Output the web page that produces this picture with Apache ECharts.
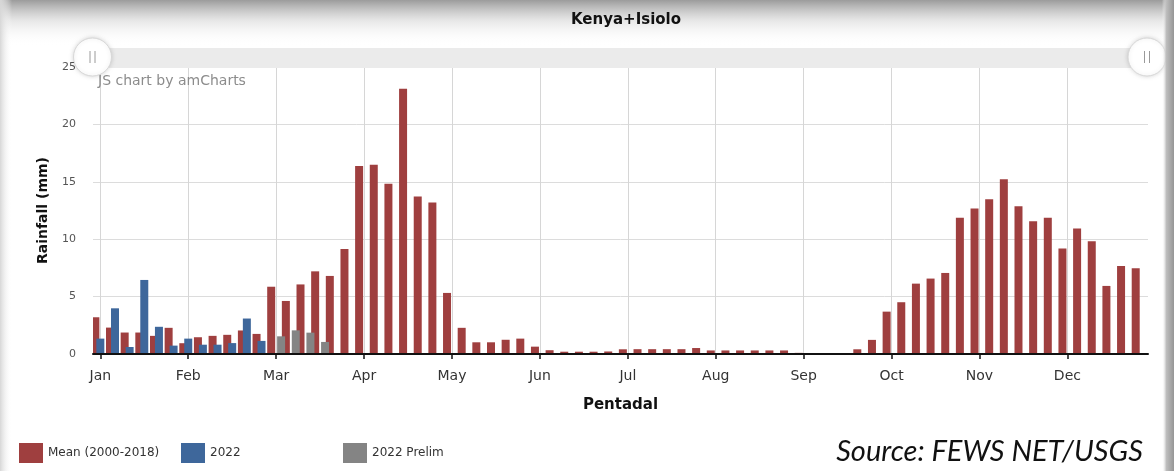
<!DOCTYPE html>
<html>
<head>
<meta charset="utf-8">
<script src="https://cdn.jsdelivr.net/npm/echarts@6/dist/echarts.min.js"></script>
<style>
  html, body { margin: 0; padding: 0; background: #ffffff; }
  #chart { width: 1174px; height: 471px; }
</style>
</head>
<body>
<div id="chart"></div>
<script>
// ---------------- data ----------------
const months = ['Jan', 'Feb', 'Mar', 'Apr', 'May', 'Jun', 'Jul', 'Aug', 'Sep', 'Oct', 'Nov', 'Dec'];
const pentadsPerMonth = 6;
const pentads = [];
months.forEach(function (m) {
  for (let k = 1; k <= pentadsPerMonth; k++) pentads.push(m + ' P' + k);
});

// Mean (2000-2018) rainfall per pentad, mm
const meanRain = [
  3.20, 2.30, 1.87, 1.87, 1.58, 2.28,     // Jan
  0.94, 1.46, 1.58, 1.67, 2.05, 1.75,     // Feb
  5.86, 4.62, 6.06, 7.20, 6.80, 9.15,     // Mar
  16.37, 16.48, 14.83, 23.11, 13.72, 13.20, // Apr
  5.32, 2.28, 1.02, 1.02, 1.24, 1.34,     // May
  0.64, 0.33, 0.20, 0.20, 0.20, 0.22,     // Jun
  0.41, 0.42, 0.42, 0.42, 0.42, 0.52,     // Jul
  0.31, 0.31, 0.31, 0.31, 0.31, 0.31,     // Aug
  0.10, 0.04, 0.05, 0.05, 0.41, 1.23,     // Sep
  3.69, 4.51, 6.13, 6.57, 7.06, 11.86,    // Oct
  12.67, 13.49, 15.23, 12.88, 11.57, 11.86, // Nov
  9.19, 10.93, 9.83, 5.93, 7.67, 7.47     // Dec
];
// 2022 observed (Jan P1 .. Feb P6)
const rain2022 = [1.34, 3.98, 0.61, 6.45, 2.37, 0.73, 1.34, 0.81, 0.81, 0.95, 3.09, 1.14];
// 2022 preliminary (Mar P1 .. Mar P4)
const rain2022Prelim = [1.54, 2.06, 1.86, 1.05];
const prelimStartIndex = 12;

const seriesNames = ['Mean (2000-2018)', '2022', '2022 Prelim'];
const yTickValues = [0, 5, 10, 15, 20, 25];

// ---------------- build ----------------
const data2022 = pentads.map(function (p, i) { return i < rain2022.length ? rain2022[i] : null; });
const dataPrelim = pentads.map(function (p, i) {
  const j = i - prelimStartIndex;
  return (j >= 0 && j < rain2022Prelim.length) ? rain2022Prelim[j] : null;
});
// month ticks sit at the centre of each month's first pentad
const monthTickPos = months.map(function (m, i) { return i * pentadsPerMonth + 0.5; });

const FONT = '"DejaVu Sans", Verdana, sans-serif';
const colors = ['#9f3f3f', '#3e679b', '#848484'];

const chart = echarts.init(document.getElementById('chart'), null, { renderer: 'canvas' });

function barSeries(idx, data) {
  return {
    name: seriesNames[idx],
    type: 'bar',
    xAxisIndex: 0,
    yAxisIndex: 0,
    data: data,
    barWidth: 8,
    barGap: '-38%',
    itemStyle: { color: colors[idx] },
    emphasis: { disabled: true },
    z: 2
  };
}

const option = {
  animation: false,
  backgroundColor: '#ffffff',
  title: [
    {
      text: 'Kenya+Isiolo',
      left: 621,
      textAlign: 'center',
      top: 8,
      textStyle: { fontFamily: FONT, fontSize: 15, fontWeight: 'bold', color: '#111' }
    },
    {
      text: 'Source: FEWS NET/USGS',
      right: 26,
      bottom: 0,
      textStyle: { fontFamily: 'Lato, "Open Sans", sans-serif', fontStyle: 'italic', fontWeight: 'normal', fontSize: 29, color: '#111' }
    }
  ],
  legend: seriesNames.map(function (n, i) {
    return {
      data: [n],
      left: 14 + i * 162,
      top: 438,
      icon: 'rect',
      itemWidth: 24,
      itemHeight: 20,
      itemGap: 5,
      selectedMode: false,
      textStyle: { fontFamily: FONT, fontSize: 12, color: '#333' }
    };
  }),
  grid: { left: 93, right: 26, top: 67, bottom: 117, containLabel: false },
  xAxis: [
    {
      type: 'category',
      data: pentads,
      boundaryGap: true,
      axisLine: { show: true, lineStyle: { color: '#111', width: 2 } },
      axisTick: { show: false },
      axisLabel: { show: false },
      splitLine: { show: false },
      z: 5
    },
    {
      type: 'value',
      min: 0,
      max: months.length * pentadsPerMonth,
      position: 'bottom',
      axisLine: { show: false },
      axisTick: { show: true, customValues: monthTickPos, length: 5, lineStyle: { color: '#111', width: 1.5 } },
      axisLabel: {
        customValues: monthTickPos,
        formatter: function (v) { return months[Math.round((v - 0.5) / pentadsPerMonth)]; },
        margin: 15,
        color: '#333',
        fontSize: 14,
        fontFamily: FONT
      },
      splitLine: { show: true, lineStyle: { color: '#d6d6d6', width: 1 } },
      name: 'Pentadal',
      nameLocation: 'middle',
      nameGap: 44,
      nameTextStyle: { fontFamily: FONT, fontSize: 15, fontWeight: 'bold', color: '#111' },
      z: 0
    }
  ],
  yAxis: [
    {
      type: 'value',
      min: yTickValues[0],
      max: yTickValues[yTickValues.length - 1],
      interval: yTickValues[1] - yTickValues[0],
      axisLine: { show: false },
      axisTick: { show: false },
      axisLabel: { margin: 17, color: '#555', fontSize: 11, fontFamily: FONT },
      splitLine: { show: true, lineStyle: { color: '#dcdcdc', width: 1 } },
      name: 'Rainfall (mm)',
      nameLocation: 'middle',
      nameGap: 43,
      nameTextStyle: { fontFamily: FONT, fontSize: 14, fontWeight: 'bold', color: '#111' }
    }
  ],
  graphic: [
    // frame shading (screenshot bezel)
    { type: 'rect', silent: true, z: -100, shape: { x: 0, y: 0, width: 1174, height: 46 },
      style: { fill: new echarts.graphic.LinearGradient(0, 0, 0, 1, [
        { offset: 0, color: 'rgba(150,150,150,0.95)' },
        { offset: 0.45, color: 'rgba(215,215,215,0.6)' },
        { offset: 1, color: 'rgba(255,255,255,0)' }]) } },
    { type: 'rect', silent: true, z: -100, shape: { x: 0, y: 0, width: 12, height: 471 },
      style: { fill: new echarts.graphic.LinearGradient(0, 0, 1, 0, [
        { offset: 0, color: 'rgba(215,215,215,1)' },
        { offset: 1, color: 'rgba(255,255,255,0)' }]) } },
    { type: 'rect', silent: true, z: 100, shape: { x: 1162, y: 0, width: 12, height: 471 },
      style: { fill: new echarts.graphic.LinearGradient(0, 0, 1, 0, [
        { offset: 0, color: 'rgba(255,255,255,0)' },
        { offset: 0.35, color: 'rgba(190,190,190,1)' },
        { offset: 1, color: 'rgba(150,150,150,1)' }]) } },
    // scrollbar
    { type: 'rect', silent: true, z: 50, shape: { x: 93, y: 48, width: 1055, height: 20 },
      style: { fill: '#ebebeb' } },
    { type: 'circle', silent: true, z: 51, shape: { cx: 92.5, cy: 57, r: 19 },
      style: { fill: '#ffffff', stroke: '#d8d8d8', lineWidth: 1, shadowBlur: 4, shadowColor: 'rgba(0,0,0,0.15)' } },
    { type: 'line', silent: true, z: 52, shape: { x1: 90, y1: 51, x2: 90, y2: 63 }, style: { stroke: '#9a9a9a', lineWidth: 1 } },
    { type: 'line', silent: true, z: 52, shape: { x1: 95, y1: 51, x2: 95, y2: 63 }, style: { stroke: '#9a9a9a', lineWidth: 1 } },
    { type: 'circle', silent: true, z: 51, shape: { cx: 1147, cy: 57, r: 19 },
      style: { fill: '#ffffff', stroke: '#d8d8d8', lineWidth: 1, shadowBlur: 4, shadowColor: 'rgba(0,0,0,0.15)' } },
    { type: 'line', silent: true, z: 52, shape: { x1: 1144.5, y1: 51, x2: 1144.5, y2: 63 }, style: { stroke: '#9a9a9a', lineWidth: 1 } },
    { type: 'line', silent: true, z: 52, shape: { x1: 1149.5, y1: 51, x2: 1149.5, y2: 63 }, style: { stroke: '#9a9a9a', lineWidth: 1 } },
    // watermark
    { type: 'text', silent: true, z: 50, x: 98, y: 74,
      style: { text: 'JS chart by amCharts', fill: '#8c8c8c', font: '14px "DejaVu Sans", Verdana, sans-serif' } }
  ],
  series: [
    barSeries(0, meanRain),
    barSeries(1, data2022),
    barSeries(2, dataPrelim)
  ]
};

chart.setOption(option);
</script>
</body>
</html>
